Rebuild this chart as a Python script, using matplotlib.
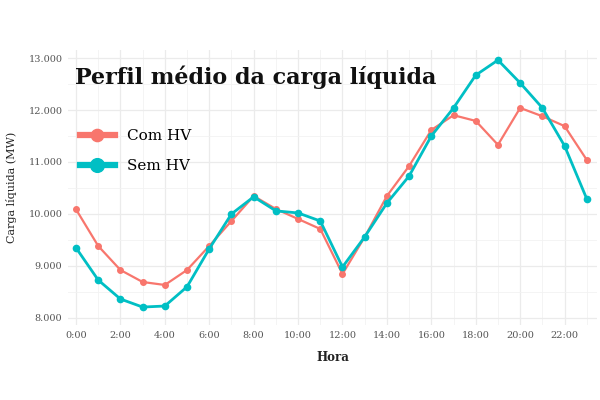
import matplotlib
matplotlib.use("Agg")
import matplotlib.pyplot as plt
from matplotlib.ticker import FuncFormatter, MultipleLocator

hours = list(range(24))
com_hv = [10090, 9385, 8923, 8692, 8635, 8923, 9385, 9865, 10346, 10096, 9904, 9712,
          8846, 9558, 10346, 10923, 11615, 11900, 11790, 11330, 12040, 11880, 11690, 11040]
sem_hv = [9350, 8730, 8365, 8210, 8230, 8600, 9330, 10000, 10330, 10060, 10020, 9865,
          8980, 9560, 10210, 10730, 11500, 12040, 12670, 12960, 12520, 12040, 11310, 10290]
x_ticks = [0, 2, 4, 6, 8, 10, 12, 14, 16, 18, 20, 22]
x_labels = [f"{h}:00" for h in x_ticks]
y_ticks = [8000, 9000, 10000, 11000, 12000, 13000]

plt.rcParams['font.family'] = ['DejaVu Serif']

fig = plt.figure(figsize=(6, 4), dpi=100)
ax = fig.add_axes([68/600, 1-325/400, (597-68)/600, (325-50)/400])

red = "#F8766D"
teal = "#00BFC4"
ax.plot(hours, com_hv, color=red, lw=1.6, marker="o", ms=4, label="Com HV", zorder=3)
ax.plot(hours, sem_hv, color=teal, lw=2.0, marker="o", ms=4.5, label="Sem HV", zorder=4)

ax.set_xlim(-0.36, 23.46)
ax.set_ylim(7865, 13154)
ax.set_xticks(x_ticks)
ax.set_xticklabels(x_labels)
ax.set_yticks(y_ticks)
ax.yaxis.set_major_formatter(FuncFormatter(lambda v, p: f"{int(v):,}".replace(",", ".")))
ax.xaxis.set_minor_locator(MultipleLocator(1))
ax.yaxis.set_minor_locator(MultipleLocator(500))
ax.grid(True, which="major", color="#EBEBEB", lw=0.9)
ax.grid(True, which="minor", color="#F2F2F2", lw=0.6)
ax.set_axisbelow(True)
for s in ax.spines.values():
    s.set_visible(False)
ax.tick_params(which="both", length=0)
ax.tick_params(axis="both", labelsize=7, colors="#555555", pad=4)

ax.set_xlabel("Hora", fontsize=8.5, fontweight="bold", color="#222222", labelpad=8)
ax.set_ylabel("Carga líquida (MW)", fontsize=8, color="#222222", labelpad=8)

fig.text(75/600, 1-77/400, "Perfil médio da carga líquida", fontsize=16, fontweight="bold",
         color="#111111", va="center", ha="left")

leg = ax.legend(loc="upper left", bbox_to_anchor=(0.005, 0.745), frameon=False,
                fontsize=11, handlelength=2.3, markerscale=2.2, labelspacing=1.05,
                borderaxespad=0.2)
for line in leg.get_lines():
    line.set_linewidth(4.5)

fig.savefig("out.png", dpi=100, facecolor="white")
